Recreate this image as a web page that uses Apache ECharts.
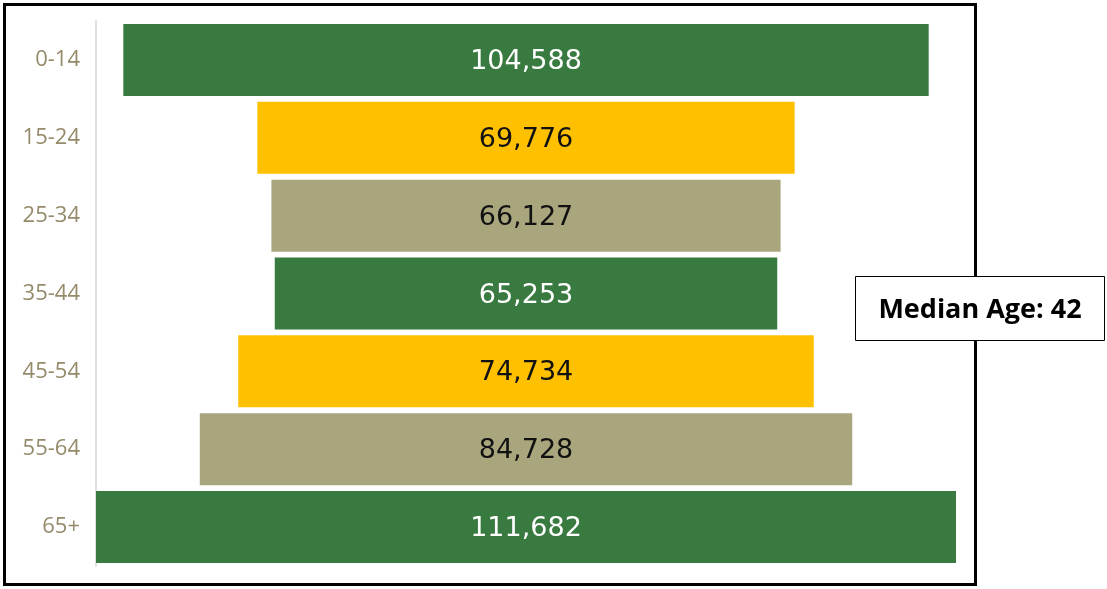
<!DOCTYPE html>
<html>
<head>
<meta charset="utf-8">
<script src="https://cdn.jsdelivr.net/npm/echarts@6/dist/echarts.min.js"></script>
<style>
	html, body { margin: 0; padding: 0; background: #fff; }
	#main { width: 1107px; height: 589px; }
</style>
</head>
<body>
<div id="main"></div>
<script type="text/javascript">
	// 年龄段和人数
	var ageGroups = ['0-14', '15-24', '25-34', '35-44', '45-54', '55-64', '65+'];
	var population = [104588, 69776, 66127, 65253, 74734, 84728, 111682];
	var barColors = ['#387A40', '#FFC000', '#A9A67E', '#387A40', '#FFC000', '#A9A67E', '#387A40'];
	var labelColors = ['#ffffff', '#111111', '#111111', '#ffffff', '#111111', '#111111', '#ffffff'];
	var medianText = 'Median Age: 42';

	var maxVal = Math.max.apply(null, population);
	// 透明的偏移量，让条形居中
	var offsets = population.map(function (v) { return (maxVal - v) / 2; });

	var myChart = echarts.init(document.getElementById('main'));

	var option = {
		animation: false,
		grid: { left: 96, right: 151, top: 21, bottom: 23 },
		xAxis: {
			type: 'value',
			min: 0,
			max: maxVal,
			show: false
		},
		yAxis: {
			type: 'category',
			inverse: true,
			data: ageGroups,
			axisLine: { show: true, lineStyle: { color: '#e3e0da', width: 2 } },
			axisTick: { show: false },
			axisLabel: {
				margin: 16,
				padding: [4, 0, 0, 0],
				color: '#958b6b',
				fontSize: 22,
				fontFamily: 'Open Sans'
			}
		},
		series: [
			{
				type: 'bar',
				stack: 'all',
				silent: true,
				itemStyle: { color: 'transparent' },
				data: offsets
			},
			{
				type: 'bar',
				stack: 'all',
				barCategoryGap: '7.5%',
				data: population.map(function (v, i) {
					return {
						value: v,
						itemStyle: { color: barColors[i] },
						label: { color: labelColors[i] }
					};
				}),
				label: {
					show: true,
					position: 'inside',
					offset: [0, 2],
					fontSize: 27,
					fontFamily: 'DejaVu Sans',
					formatter: function (p) { return p.value.toLocaleString('en-US'); }
				}
			}
		],
		graphic: [
			{
				type: 'rect',
				shape: { x: 4.5, y: 4.5, width: 971, height: 580 },
				style: { fill: 'none', stroke: '#000', lineWidth: 3 },
				z: 10
			},
			{
				type: 'rect',
				shape: { x: 855.5, y: 276.5, width: 249, height: 64 },
				style: { fill: '#fff', stroke: '#000', lineWidth: 1 },
				z: 20
			},
			{
				type: 'text',
				x: 980,
				y: 310,
				z: 21,
				style: {
					text: medianText,
					fontSize: 27,
					fontWeight: 'bold',
					fontFamily: 'Open Sans',
					fill: '#000',
					align: 'center',
					verticalAlign: 'middle'
				}
			}
		]
	};

	myChart.setOption(option);
</script>
</body>
</html>
